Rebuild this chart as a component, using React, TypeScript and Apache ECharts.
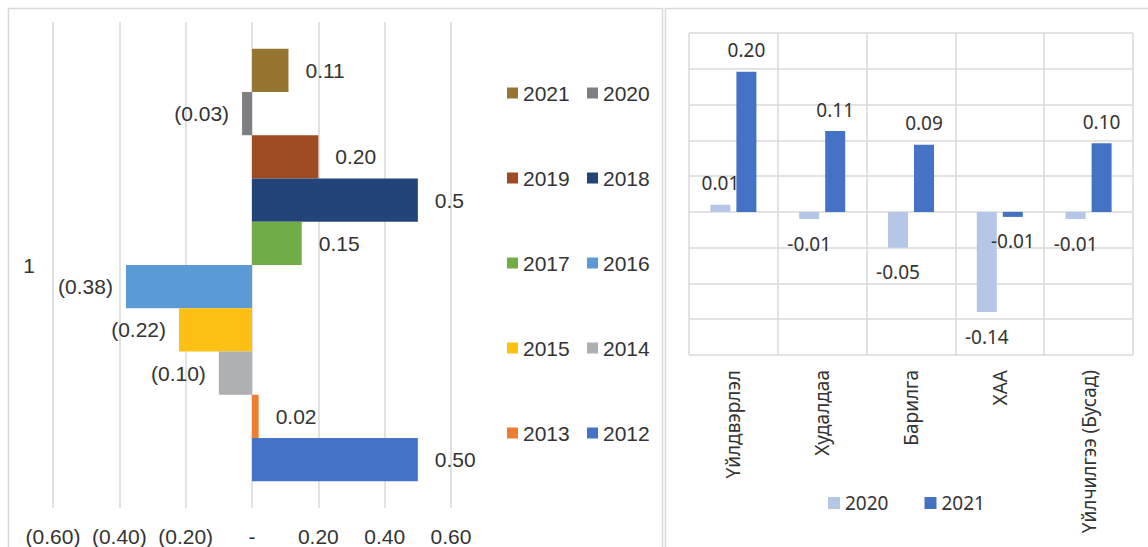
import React, { useEffect, useRef } from 'react';
import * as echarts from 'echarts';

// ---------- Left chart data ----------
const leftCategories = ['1'];
const leftYears = ['2012', '2013', '2014', '2015', '2016', '2017', '2018', '2019', '2020', '2021'];
const leftValues = [0.5, 0.02, -0.1, -0.22, -0.38, 0.15, 0.5, 0.2, -0.03, 0.11];
const leftValueLabels = ['0.50', '0.02', '(0.10)', '(0.22)', '(0.38)', '0.15', '0.5', '0.20', '(0.03)', '0.11'];
const leftColors = ['#4472C4', '#ED7D31', '#AEAFB2', '#FBC012', '#5B9BD5', '#70AD47', '#234478', '#9E4A22', '#7E7F83', '#967530'];
const leftLegendCol1 = ['2021', '2019', '2017', '2015', '2013'];
const leftLegendCol2 = ['2020', '2018', '2016', '2014', '2012'];

// ---------- Right chart data ----------
const sectors = ['Үйлдвэрлэл', 'Худалдаа', 'Барилга', 'ХАА', 'Үйлчилгээ (Бусад)'];
const rightSeriesNames = ['2020', '2021'];
const values2020 = [0.01, -0.01, -0.05, -0.14, -0.01];
const values2021 = [0.196, 0.113, 0.094, -0.007, 0.096];
const rightColors = ['#B4C7E7', '#4472C4'];

const LEFT_FONT = 'Liberation Sans, Arial, sans-serif';
const RIGHT_FONT = 'Noto Sans, Open Sans, sans-serif';
const TEXT = '#333333';
const GRID = '#d9d9d9';
const LEFT_SIZE = 21;
const RIGHT_SIZE = 19;

function leftTick(v: number): string {
  if (Math.abs(v) < 1e-9) return '-';
  const s = Math.abs(v).toFixed(2);
  return v < 0 ? '(' + s + ')' : s;
}

function buildOption() {
  // ECharts stacks horizontal bars top-down in series order, so feed newest first
  const order = leftYears.map((_, i) => i).reverse();
  const leftSeries = order.map((i) => ({
    type: 'bar',
    name: leftYears[i],
    xAxisIndex: 0,
    yAxisIndex: 0,
    barGap: '0%',
    barCategoryGap: '11%',
    itemStyle: { color: leftColors[i] },
    label: {
      show: true,
      formatter: leftValueLabels[i],
      fontSize: LEFT_SIZE,
      fontFamily: LEFT_FONT,
      color: TEXT,
    },
    data: [
      {
        value: leftValues[i],
        label:
          leftValues[i] < 0
            ? { position: 'left', distance: 13 }
            : { position: 'right', distance: 17 },
      },
    ],
  }));

  const rightData = [values2020, values2021];
  const rightSeries = rightSeriesNames.map((n, k) => ({
    type: 'bar',
    name: n,
    xAxisIndex: 1,
    yAxisIndex: 1,
    barWidth: 20,
    barGap: '30%',
    itemStyle: { color: rightColors[k] },
    label: {
      show: true,
      fontSize: RIGHT_SIZE,
      fontFamily: RIGHT_FONT,
      color: TEXT,
      formatter: (p: any) => Number(p.value).toFixed(2),
    },
    data: rightData[k].map((v) => ({
      value: v,
      label: v < 0 ? { position: 'bottom', distance: 15 } : { position: 'top', distance: 12 },
    })),
  }));

  const legendColor = (name: string) => leftColors[leftYears.indexOf(name)];

  return {
    animation: false,
    backgroundColor: '#ffffff',
    graphic: [
      {
        type: 'rect',
        silent: true,
        z: -10,
        shape: { x: 8.5, y: 8.5, width: 654, height: 700 },
        style: { fill: 'none', stroke: GRID, lineWidth: 1.5 },
      },
      {
        type: 'rect',
        silent: true,
        z: -10,
        shape: { x: 665.5, y: 8.5, width: 700, height: 700 },
        style: { fill: 'none', stroke: GRID, lineWidth: 1.5 },
      },
    ],
    grid: [
      { left: 53, width: 398, top: 22, height: 486 },
      { left: 689, width: 444, top: 33, height: 322 },
    ],
    xAxis: [
      {
        gridIndex: 0,
        type: 'value',
        min: -0.6,
        max: 0.6,
        interval: 0.2,
        axisLine: { show: false },
        axisTick: { show: false },
        splitLine: { show: true, lineStyle: { color: GRID, width: 1.5 } },
        axisLabel: {
          formatter: leftTick,
          fontSize: LEFT_SIZE,
          fontFamily: LEFT_FONT,
          color: TEXT,
          margin: 18,
        },
      },
      {
        gridIndex: 1,
        type: 'category',
        data: sectors,
        axisLine: { show: false, onZero: false },
        axisTick: { show: false },
        splitLine: { show: true, lineStyle: { color: GRID, width: 1.5 } },
        axisLabel: {
          rotate: 90,
          interval: 0,
          margin: 15,
          fontSize: RIGHT_SIZE,
          fontFamily: RIGHT_FONT,
          color: TEXT,
        },
      },
    ],
    yAxis: [
      {
        gridIndex: 0,
        type: 'category',
        data: leftCategories,
        axisLine: { show: false, onZero: false },
        axisTick: { show: false },
        splitLine: { show: false },
        axisLabel: { margin: 18, fontSize: LEFT_SIZE, fontFamily: LEFT_FONT, color: TEXT },
      },
      {
        gridIndex: 1,
        type: 'value',
        min: -0.2,
        max: 0.25,
        interval: 0.05,
        axisLine: { show: false },
        axisTick: { show: false },
        axisLabel: { show: false },
        splitLine: { show: true, lineStyle: { color: GRID, width: 1.5 } },
      },
    ],
    legend: [
      {
        orient: 'vertical',
        left: 502,
        top: 77,
        icon: 'rect',
        itemWidth: 11,
        itemHeight: 11,
        itemGap: 63,
        textStyle: { fontSize: LEFT_SIZE, fontFamily: LEFT_FONT, color: TEXT, lineHeight: 22 },
        data: leftLegendCol1.map((n) => ({ name: n, itemStyle: { color: legendColor(n) } })),
      },
      {
        orient: 'vertical',
        left: 582,
        top: 77,
        icon: 'rect',
        itemWidth: 11,
        itemHeight: 11,
        itemGap: 63,
        textStyle: { fontSize: LEFT_SIZE, fontFamily: LEFT_FONT, color: TEXT, lineHeight: 22 },
        data: leftLegendCol2.map((n) => ({ name: n, itemStyle: { color: legendColor(n) } })),
      },
      {
        orient: 'horizontal',
        left: 823,
        top: 488,
        icon: 'rect',
        itemWidth: 12,
        itemHeight: 12,
        itemGap: 36,
        textStyle: { fontSize: RIGHT_SIZE, fontFamily: RIGHT_FONT, color: TEXT, lineHeight: 20 },
        data: rightSeriesNames.map((n, k) => ({ name: n, itemStyle: { color: rightColors[k] } })),
      },
    ],
    series: [...leftSeries, ...rightSeries],
  };
}

export default function App() {
  const ref = useRef<HTMLDivElement>(null);
  useEffect(() => {
    if (!ref.current) return;
    const chart = echarts.init(ref.current, null, { renderer: 'svg' });
    chart.setOption(buildOption() as any);
    return () => chart.dispose();
  }, []);
  return (
    <div
      ref={ref}
      style={{ position: 'fixed', left: 0, top: 0, width: 1148, height: 547, background: '#ffffff' }}
    />
  );
}
